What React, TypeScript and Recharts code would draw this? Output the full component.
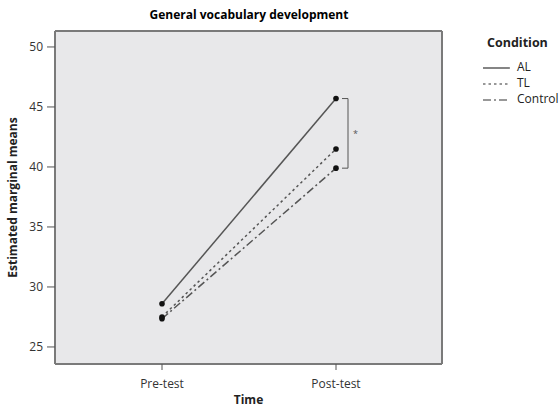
import React from 'react';
import { LineChart, Line, XAxis, YAxis, CartesianGrid, ReferenceLine } from 'recharts';

const times = ['Pre-test', 'Post-test'];
const alMeans = [28.6, 45.7];
const tlMeans = [27.5, 41.5];
const controlMeans = [27.35, 39.9];
const yTicks = [25, 30, 35, 40, 45, 50];

const conditions = [
  { key: 'AL', label: 'AL', dash: undefined as string | undefined },
  { key: 'TL', label: 'TL', dash: '2.5 3' },
  { key: 'Control', label: 'Control', dash: '8 3 2 3' },
];

const data = times.map((t, i) => ({
  time: t,
  AL: alMeans[i],
  TL: tlMeans[i],
  Control: controlMeans[i],
}));

const FONT = '"Open Sans", "Noto Sans", sans-serif';
const LINE = '#555';

const Bracket = (props: any) => {
  const { x1, y1, y2 } = props;
  const x = x1 + 12;
  return (
    <g>
      <path d={`M${x - 6},${y1} H${x} V${y2} H${x - 6}`} fill="none" stroke="#555" strokeWidth={1} />
      <text x={x + 5} y={(y1 + y2) / 2 + 4} fontSize={9} fill="#555" fontFamily={FONT}>*</text>
    </g>
  );
};

const LegendBox = () => (
  <div style={{ fontFamily: FONT, fontSize: 12, color: '#222' }}>
    <div style={{ fontWeight: 700, fontSize: 12.5, marginLeft: 5, marginBottom: 7 }}>Condition</div>
    {conditions.map(c => (
      <div key={c.key} style={{ display: 'flex', alignItems: 'center', height: 16 }}>
        <svg width={30} height={10}>
          <line x1={1} y1={7} x2={28} y2={7} stroke="#333" strokeWidth={1.2} strokeDasharray={c.dash} />
        </svg>
        <span style={{ marginLeft: 5 }}>{c.label}</span>
      </div>
    ))}
  </div>
);

export default function App() {
  return (
    <div style={{ position: 'absolute', left: 0, top: 0, width: 559, height: 410, background: '#fff' }}>
      <div style={{ position: 'absolute', left: 0, width: 498, top: 6, textAlign: 'center', fontFamily: FONT, fontWeight: 700, fontSize: 12 }}>
        General vocabulary development
      </div>
      <div style={{ position: 'absolute', left: 482, top: 34 }}>
        <LegendBox />
      </div>
      <LineChart width={559} height={410} data={data} margin={{ top: 31, right: 117, bottom: 0, left: 0 }}>
        <CartesianGrid
          fill="#e8e8ea"
          stroke="#7a7a7a"
          strokeWidth={2}
          horizontalCoordinatesGenerator={({ offset }: any) => [offset.top, offset.top + offset.height]}
          verticalCoordinatesGenerator={({ offset }: any) => [offset.left, offset.left + offset.width]}
        />
        <XAxis
          dataKey="time"
          height={46}
          padding={{ left: 107, right: 106 }}
          axisLine={false}
          tickLine={{ stroke: '#555' }}
          tickSize={6}
          tickMargin={9}
          tick={{ fontSize: 12, fill: '#333', fontFamily: FONT }}
          label={{ value: 'Time', position: 'insideBottom', offset: 6, style: { fontWeight: 700, fontSize: 12, fill: '#222', fontFamily: FONT } }}
        />
        <YAxis
          width={55}
          domain={[23.58, 51.33]}
          ticks={yTicks}
          allowDataOverflow
          axisLine={false}
          tickLine={{ stroke: '#555' }}
          tickSize={8}
          tickMargin={4}
          tick={{ fontSize: 12, fill: '#333', fontFamily: FONT }}
          label={{ value: 'Estimated marginal means', angle: -90, position: 'insideLeft', offset: 13, style: { textAnchor: 'middle', fontWeight: 700, fontSize: 12, fill: '#222', fontFamily: FONT } }}
        />
        <ReferenceLine
          segment={[{ x: 'Post-test', y: alMeans[1] }, { x: 'Post-test', y: controlMeans[1] }]}
          shape={<Bracket />}
          ifOverflow="visible"
        />
        {conditions.map(c => (
          <Line
            key={c.key}
            dataKey={c.key}
            stroke={LINE}
            strokeWidth={1.5}
            strokeDasharray={c.dash}
            dot={{ r: 2.8, fill: '#111', stroke: '#111', strokeWidth: 0 }}
            isAnimationActive={false}
          />
        ))}
      </LineChart>
    </div>
  );
}
